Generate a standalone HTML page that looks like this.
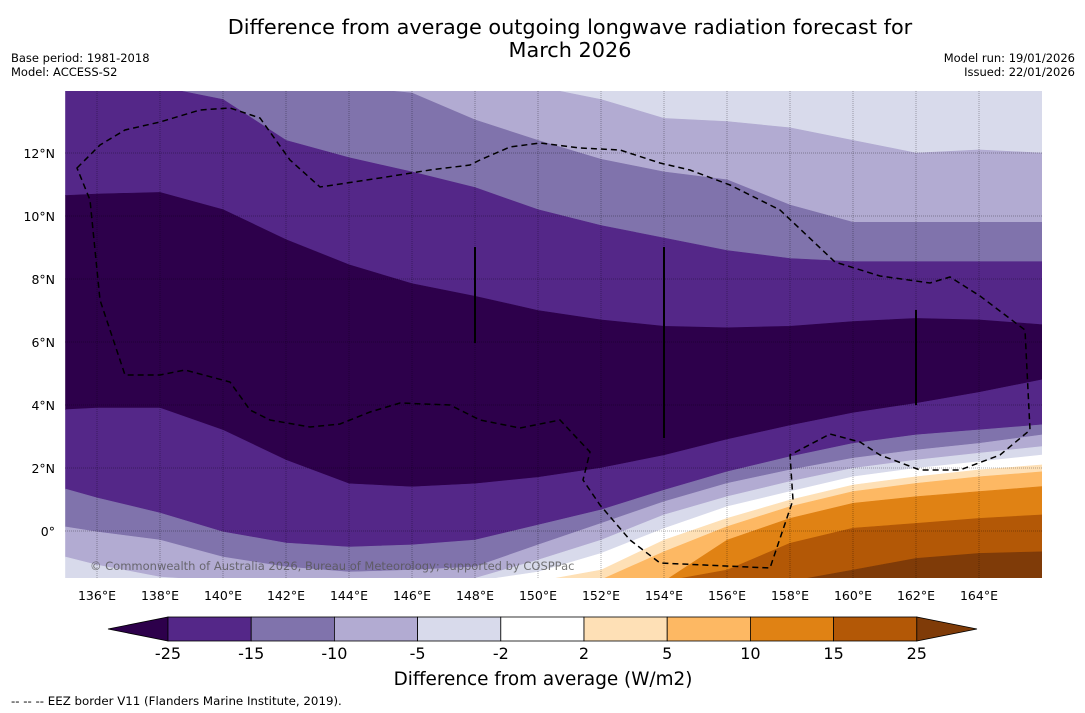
<!DOCTYPE html>
<html><head><meta charset="utf-8">
<style>
html,body{margin:0;padding:0;background:#fff;width:1085px;height:713px;overflow:hidden;font-family:"Liberation Sans","DejaVu Sans",sans-serif;}
svg{display:block;}
svg text{font-family:"DejaVu Sans","Liberation Sans",sans-serif;}
</style></head>
<body>
<svg id="chart" width="1085" height="713" viewBox="0 0 1085 713" xmlns="http://www.w3.org/2000/svg">
<text x="570" y="34" font-size="20.8" text-anchor="middle">Difference from average outgoing longwave radiation forecast for</text>
<text x="570" y="57" font-size="20.8" text-anchor="middle">March 2026</text>
<text x="11" y="62" font-size="11.5">Base period: 1981-2018</text>
<text x="11" y="76" font-size="11.5">Model: ACCESS-S2</text>
<text x="1075" y="62" font-size="11.5" text-anchor="end">Model run: 19/01/2026</text>
<text x="1075" y="76" font-size="11.5" text-anchor="end">Issued: 22/01/2026</text>
<defs><clipPath id="plotclip"><rect x="65" y="91" width="977" height="487"/></clipPath></defs>
<g id="bands" clip-path="url(#plotclip)"></g>
<g id="grid" clip-path="url(#plotclip)"></g>
<g id="overlay" clip-path="url(#plotclip)">
<path fill="none" stroke="#000" stroke-width="1.5" stroke-dasharray="6,4" d="M77,168 L100,145 L125,130 L160,122 L200,110 L230,108 L260,118 L290,160 L320,187 L380,178 L430,170 L470,165 L480,160 L510,147 L540,143 L580,148 L620,150 L660,163 L690,170 L730,185 L780,210 L835,262 L880,276 L930,283 L950,277 L980,296 L1025,330 L1030,430 L1000,455 L960,470 L920,470 L880,455 L860,442 L830,434 L790,455 L793,500 L770,568 L660,563 L630,540 L600,505 L583,480 L590,452 L560,420 L520,428 L480,420 L450,405 L400,403 L370,412 L340,424 L310,427 L270,420 L250,410 L230,382 L185,370 L160,375 L125,375 L100,300 L90,200 Z"/>
<line x1="475" y1="247" x2="475" y2="343" stroke="#000" stroke-width="2"/>
<line x1="664" y1="247" x2="664" y2="438" stroke="#000" stroke-width="2"/>
<line x1="916" y1="310" x2="916" y2="405" stroke="#000" stroke-width="2"/>
<text x="90" y="570" font-size="11.5" fill="#555" fill-opacity="0.8">© Commonwealth of Australia 2026, Bureau of Meteorology; supported by COSPPac</text>
</g>
<g id="axes"></g>
<g id="colorbar"></g>
<text x="543" y="685" font-size="18.4" text-anchor="middle">Difference from average (W/m2)</text>
<text x="11" y="705" font-size="11.8">--  --  -- EEZ border V11 (Flanders Marine Institute, 2019).</text>
</svg>
<script>
const lons = [135,136,138,140,142,144,146,148,150,152,154,156,158,160,162,164,166];
const bC = [15,15,15,15,15,15,15,15,15,13.7,13.1,13.0,12.8,12.4,12.0,12.1,12.0];
const bB = [15.6,15.6,15.6,15.6,15.6,15.6,13.9,13.05,12.4,11.8,11.4,11.15,10.35,9.8,9.8,9.8,9.8];
const bA = [15.6,15.6,15.6,13.7,12.4,11.85,11.4,10.9,10.2,9.7,9.3,8.9,8.65,8.55,8.55,8.55,8.55];
const bD = [10.65,10.7,10.75,10.2,9.25,8.45,7.85,7.45,7.0,6.7,6.5,6.45,6.5,6.65,6.75,6.7,6.55];
const bE = [3.85,3.9,3.9,3.2,2.25,1.5,1.4,1.5,1.7,2.0,2.4,2.9,3.35,3.75,4.05,4.4,4.8];
const bF = [1.33,1.05,0.57,-0.03,-0.38,-0.51,-0.44,-0.29,0.19,0.67,1.3,1.88,2.36,2.78,3.05,3.21,3.37];
const bG = [0.13,-0.03,-0.29,-0.83,-1.14,-1.3,-1.24,-1.14,-0.44,0.24,0.93,1.51,1.94,2.31,2.57,2.78,3.05];
const bH = [-0.83,-1.08,-1.46,-1.7,-1.9,-2.0,-1.9,-1.5,-0.92,-0.29,0.51,1.09,1.57,1.99,2.25,2.47,2.68];
const bI = [-2.5,-2.5,-2.5,-2.5,-2.5,-2.5,-2.4,-2.0,-1.3,-0.71,0.08,0.77,1.25,1.72,1.99,2.2,2.41];
const bJ = [-3,-3,-3,-3,-3,-3,-3,-2.8,-2.2,-1.24,-0.29,0.4,0.98,1.46,1.72,1.94,2.1];
const bK = [-3.5,-3.5,-3.5,-3.5,-3.5,-3.5,-3.5,-3.2,-2.5,-1.55,-0.66,0.14,0.77,1.25,1.51,1.72,1.88];
const bL = [-4,-4,-4,-4,-4,-4,-4,-3.6,-3,-2.2,-1.6,-0.29,0.4,0.88,1.09,1.25,1.41];
const bM = [-4.5,-4.5,-4.5,-4.5,-4.5,-4.5,-4.5,-4,-3.4,-2.8,-2.3,-1.24,-0.39,0.09,0.24,0.4,0.51];
const bN = [-5,-5,-5,-5,-5,-5,-5,-4.5,-4,-3.5,-3.2,-2.4,-1.7,-1.24,-0.87,-0.71,-0.66];
const levelLabels = ['-25','-15','-10','-5','-2','2','5','10','15','25'];
const lonTicks = [136,138,140,142,144,146,148,150,152,154,156,158,160,162,164];
const latTicks = [12,10,8,6,4,2,0];

const NS='http://www.w3.org/2000/svg';
const xOf = lon => Math.max(65, Math.min(1042, 97 + (lon-136)*31.5));
const yOf = lat => 531 - lat*31.5;
const clampLat = lat => Math.max(-1.6, Math.min(14.1, lat));
const topEdge = lons.map(()=>20);
const bottomEdge = lons.map(()=>-8);
const bounds = [topEdge,bC,bB,bA,bD,bE,bF,bG,bH,bI,bJ,bK,bL,bM,bN,bottomEdge];
const bandColors = ['#d8daeb','#b2abd2','#8073ac','#542788','#2d004b','#542788','#8073ac','#b2abd2','#d8daeb','#ffffff','#fee0b6','#fdb863','#e08214','#b35806','#7f3b08'];
const bandG = document.getElementById('bands');
for(let i=0;i<bandColors.length;i++){
  const up=bounds[i], lo=bounds[i+1];
  let pts=[];
  for(let k=0;k<lons.length;k++) pts.push(xOf(lons[k]).toFixed(1)+','+yOf(clampLat(up[k])).toFixed(1));
  for(let k=lons.length-1;k>=0;k--) pts.push(xOf(lons[k]).toFixed(1)+','+yOf(clampLat(lo[k])).toFixed(1));
  const p=document.createElementNS(NS,'polygon');
  p.setAttribute('points',pts.join(' '));
  p.setAttribute('fill',bandColors[i]);
  p.setAttribute('stroke',bandColors[i]);
  p.setAttribute('stroke-width','0.6');
  
  
  bandG.appendChild(p);
}
const gridG=document.getElementById('grid');
const axesG=document.getElementById('axes');
lonTicks.forEach(lon=>{
  const l=document.createElementNS(NS,'line');
  l.setAttribute('x1',xOf(lon));l.setAttribute('x2',xOf(lon));l.setAttribute('y1',91);l.setAttribute('y2',578);
  l.setAttribute('stroke','#000');l.setAttribute('stroke-opacity','0.3');l.setAttribute('stroke-width','1');l.setAttribute('stroke-dasharray','1,1');
  
  
  gridG.appendChild(l);
  const t=document.createElementNS(NS,'text');
  t.setAttribute('x',xOf(lon));t.setAttribute('y',600);t.setAttribute('font-size','12.5');t.setAttribute('text-anchor','middle');
  t.textContent=lon+'°E';
  
  
  axesG.appendChild(t);
});
latTicks.forEach(lat=>{
  const l=document.createElementNS(NS,'line');
  l.setAttribute('x1',65);l.setAttribute('x2',1042);l.setAttribute('y1',yOf(lat));l.setAttribute('y2',yOf(lat));
  l.setAttribute('stroke','#000');l.setAttribute('stroke-opacity','0.3');l.setAttribute('stroke-width','1');l.setAttribute('stroke-dasharray','1,1');
  
  
  gridG.appendChild(l);
  const t=document.createElementNS(NS,'text');
  t.setAttribute('x',55);t.setAttribute('y',yOf(lat)+5);t.setAttribute('font-size','12.5');t.setAttribute('text-anchor','end');
  t.textContent=lat===0?'0°':lat+'°N';
  
  
  axesG.appendChild(t);
});
const cb=document.getElementById('colorbar');
const cbX0=168, cbW=83.2, cbY=617, cbH=24;
const boxColors=['#542788','#8073ac','#b2abd2','#d8daeb','#ffffff','#fee0b6','#fdb863','#e08214','#b35806'];
const lt=document.createElementNS(NS,'polygon');
lt.setAttribute('points',`${cbX0},${cbY} ${cbX0},${cbY+cbH} 108,${cbY+cbH/2}`);
lt.setAttribute('fill','#2d004b');lt.setAttribute('stroke','#000');lt.setAttribute('stroke-width','0.8');


cb.appendChild(lt);
boxColors.forEach((c,i)=>{
  const r=document.createElementNS(NS,'rect');
  r.setAttribute('x',cbX0+i*cbW);r.setAttribute('y',cbY);r.setAttribute('width',cbW);r.setAttribute('height',cbH);
  r.setAttribute('fill',c);r.setAttribute('stroke','#000');r.setAttribute('stroke-width','0.8');
  
  
  cb.appendChild(r);
});
const xe=cbX0+9*cbW;
const rt=document.createElementNS(NS,'polygon');
rt.setAttribute('points',`${xe},${cbY} ${xe},${cbY+cbH} 977,${cbY+cbH/2}`);
rt.setAttribute('fill','#7f3b08');rt.setAttribute('stroke','#000');rt.setAttribute('stroke-width','0.8');


cb.appendChild(rt);
levelLabels.forEach((s,i)=>{
  const t=document.createElementNS(NS,'text');
  t.setAttribute('x',cbX0+i*cbW);t.setAttribute('y',659);t.setAttribute('font-size','16');t.setAttribute('text-anchor','middle');
  t.textContent=s;
  
  
  cb.appendChild(t);
});
</script>
</body></html>
